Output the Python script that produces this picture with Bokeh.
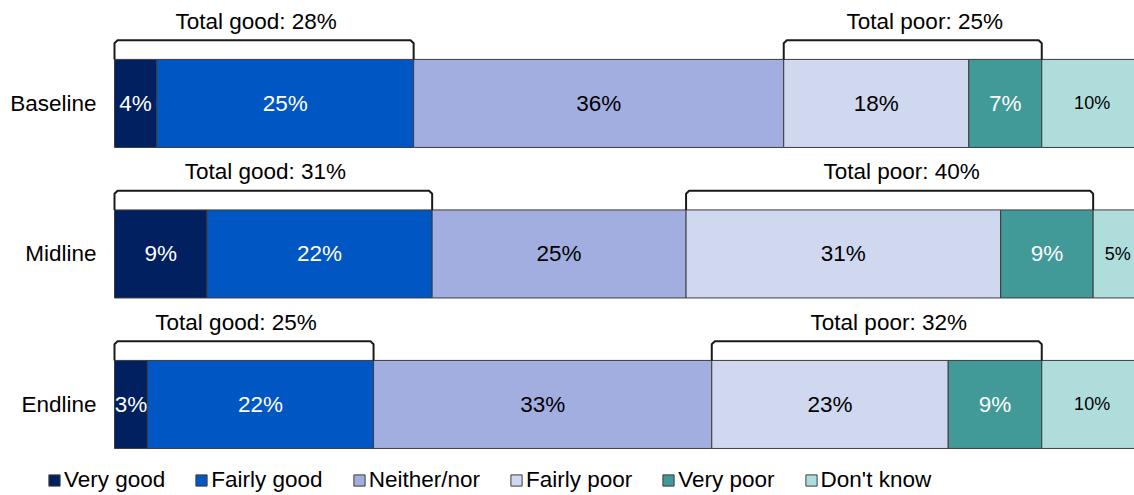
from bokeh.plotting import figure
from bokeh.models import Range1d, ColumnDataSource
from bokeh.embed import file_html
from bokeh.resources import INLINE
from bokeh.core.properties import value

# ---------------- data ----------------
categories = ["Baseline", "Midline", "Endline"]
series = ["Very good", "Fairly good", "Neither/nor", "Fairly poor", "Very poor", "Don't know"]
keys = ["vg", "fg", "nn", "fp", "vp", "dk"]

very_good = [4.1, 9.0, 3.2]
fairly_good = [25.0, 21.9, 22.0]
neither_nor = [36.0, 24.7, 32.9]
fairly_poor = [18.0, 30.6, 23.0]
very_poor = [7.1, 9.0, 9.1]
dont_know = [9.8, 4.8, 9.8]

label_vg = ["4%", "9%", "3%"]
label_fg = ["25%", "22%", "22%"]
label_nn = ["36%", "25%", "33%"]
label_fp = ["18%", "31%", "23%"]
label_vp = ["7%", "9%", "9%"]
label_dk = ["10%", "5%", "10%"]

total_good = [28, 31, 25]
total_poor = [25, 40, 32]

colors = ["#00205F", "#0056C3", "#A2AEE0", "#D0D8F0", "#419998", "#AEDDDC"]
text_colors = ["white", "white", "black", "black", "white", "black"]
text_sizes = ["22.5px", "22.5px", "22.5px", "22.5px", "22.5px", "18px"]

FONT = value("Liberation Sans")
FS = "22.5px"

# ---------------- build ----------------
values = [very_good, fairly_good, neither_nor, fairly_poor, very_poor, dont_know]
labels = [label_vg, label_fg, label_nn, label_fp, label_vp, label_dk]
n = len(categories)
ypos = [n - 1 - i for i in range(n)]
BAR_H = 0.585
PX = 10.28  # pixels per percent

data = {"y": ypos}
for k, v in zip(keys, values):
    data[k] = v
source = ColumnDataSource(data)

p = figure(width=1134, height=495, output_backend="svg", toolbar_location=None,
           x_range=Range1d(-114 / PX, 1020 / PX), y_range=Range1d(-0.605, 2.684),
           x_axis_location=None, y_axis_location=None,
           min_border_left=0, min_border_right=0, min_border_top=0, min_border_bottom=0)
p.outline_line_color = None
p.xgrid.visible = False
p.ygrid.visible = False
p.background_fill_color = "white"
p.border_fill_color = "white"

p.hbar_stack(keys, y="y", height=BAR_H, fill_color=colors, line_color="#3c3c3c",
             line_width=1, source=source, legend_label=series)

# category labels
p.text(x=[-18 / PX] * n, y=ypos, text=categories, text_align="right",
       text_baseline="middle", text_font_size=FS, text_color="black", text_font=FONT)

# segment labels
tx, ty, tt, tc, ts = [], [], [], [], []
for r in range(n):
    left = 0.0
    for s in range(len(keys)):
        w = values[s][r]
        tx.append(left + w / 2)
        ty.append(ypos[r])
        tt.append(labels[s][r])
        tc.append(text_colors[s])
        ts.append(text_sizes[s])
        left += w
p.text(x="x", y="y", text="t", text_color="c", text_font_size="s",
       source=ColumnDataSource(dict(x=tx, y=ty, t=tt, c=tc, s=ts)),
       text_align="center", text_baseline="middle", text_font=FONT)

# brackets and totals
bxs, bys = [], []
gx, gy, gt, px_, py_, pt = [], [], [], [], [], []
dx, dy = 0.3, 0.02
for r in range(n):
    y = ypos[r]
    top = y + BAR_H / 2
    bt = y + 0.42
    g0 = 0.0
    g1 = very_good[r] + fairly_good[r]
    p0 = g1 + neither_nor[r]
    p1 = p0 + fairly_poor[r] + very_poor[r]
    for (a, b) in [(g0, g1), (p0, p1)]:
        bxs.append([a, a, a + dx, b - dx, b, b])
        bys.append([top, bt - dy, bt, bt, bt - dy, top])
    gx.append((g0 + g1) / 2); gy.append(y + 0.545); gt.append("Total good: %d%%" % total_good[r])
    px_.append((p0 + p1) / 2); py_.append(y + 0.545); pt.append("Total poor: %d%%" % total_poor[r])
p.multi_line(xs=bxs, ys=bys, line_color="#1a1a1a", line_width=2, line_join="round")
p.text(x=gx, y=gy, text=gt, text_align="center", text_baseline="alphabetic", x_offset=-8,
       text_font_size=FS, text_color="black", text_font=FONT)
p.text(x=px_, y=py_, text=pt, text_align="center", text_baseline="alphabetic", x_offset=12,
       text_font_size=FS, text_color="black", text_font=FONT)

# legend
lg = p.legend[0]
lg.location = (47, 2)
lg.orientation = "horizontal"
lg.glyph_width = 14
lg.glyph_height = 14
lg.label_standoff = 3
lg.spacing = 29
lg.padding = 0
lg.margin = 0
lg.border_line_color = None
lg.background_fill_alpha = 0
lg.label_text_font_size = FS
lg.label_text_font = "Liberation Sans"
lg.label_text_color = "black"

open("out.html", "w").write(file_html(p, INLINE))
